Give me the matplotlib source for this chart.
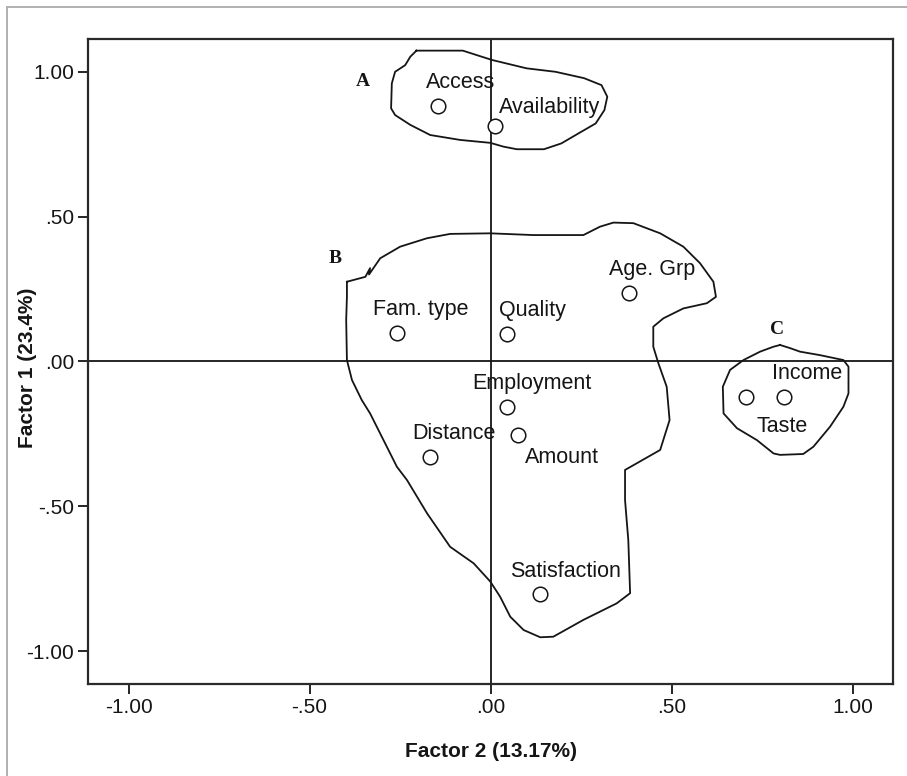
import matplotlib
matplotlib.use("Agg")
import matplotlib.pyplot as plt
from matplotlib.lines import Line2D
import numpy as np

# Factor loadings (Factor 2 on x, Factor 1 on y)
variables = ["Access", "Availability", "Fam. type", "Quality", "Age. Grp",
             "Employment", "Distance", "Amount", "Satisfaction", "Taste", "Income"]
factor2 = [-0.145, 0.011, -0.259, 0.046, 0.382, 0.046, -0.167, 0.075, 0.137, 0.704, 0.809]
factor1 = [0.881, 0.812, 0.097, 0.095, 0.237, -0.156, -0.330, -0.253, -0.802, -0.124, -0.124]

# hand-drawn group outlines, in loading units
group_a_x = [-0.205, -0.077, 0.003, 0.099, 0.179, 0.258, 0.306, 0.322, 0.314, 0.290, 0.243,
             0.195, 0.147, 0.072, 0.035, -0.001, -0.084, -0.167, -0.222, -0.264, -0.275,
             -0.273, -0.264, -0.236, -0.222, -0.205]
group_a_y = [1.072, 1.072, 1.040, 1.011, 0.999, 0.977, 0.953, 0.913, 0.867, 0.821, 0.787,
             0.752, 0.732, 0.732, 0.741, 0.754, 0.764, 0.781, 0.816, 0.850, 0.873,
             0.959, 0.999, 1.022, 1.051, 1.072]

group_b_x = [-0.397, -0.346, -0.333, -0.336, -0.305, -0.250, -0.176, -0.112, -0.001, 0.118,
             0.256, 0.302, 0.339, 0.394, 0.468, 0.532, 0.578, 0.615, 0.622, 0.597, 0.532,
             0.477, 0.449, 0.449, 0.463, 0.486, 0.494, 0.468, 0.371, 0.371, 0.380, 0.385,
             0.348, 0.256, 0.173, 0.137, 0.091, 0.054, 0.026, -0.001, -0.047, -0.112,
             -0.176, -0.231, -0.259, -0.296, -0.333, -0.356, -0.383, -0.397, -0.399,
             -0.397, -0.397]
group_b_y = [0.275, 0.292, 0.322, 0.300, 0.356, 0.396, 0.425, 0.440, 0.442, 0.436,
             0.436, 0.465, 0.479, 0.477, 0.442, 0.396, 0.339, 0.275, 0.223, 0.201, 0.183,
             0.149, 0.120, 0.051, -0.006, -0.087, -0.202, -0.305, -0.374, -0.478, -0.616,
             -0.799, -0.834, -0.891, -0.949, -0.951, -0.926, -0.880, -0.811, -0.759,
             -0.696, -0.639, -0.523, -0.409, -0.363, -0.271, -0.179, -0.133, -0.064,
             0.005, 0.143, 0.223, 0.275]

group_c_x = [0.799, 0.827, 0.854, 0.909, 0.974, 0.988, 0.988, 0.974, 0.937, 0.891, 0.863,
             0.799, 0.781, 0.735, 0.680, 0.643, 0.641, 0.661, 0.698, 0.744, 0.781, 0.799]
group_c_y = [0.057, 0.046, 0.034, 0.022, 0.005, -0.018, -0.110, -0.156, -0.225, -0.294,
             -0.319, -0.322, -0.317, -0.271, -0.230, -0.179, -0.087, -0.029, 0.005, 0.034,
             0.051, 0.057]

group_names = ["A", "B", "C"]
group_label_x = [-0.353, -0.429, 0.790]
group_label_y = [0.966, 0.356, 0.109]

# label offsets from each marker, in points
label_offsets = {
    "Access": (16, 17, "center"),
    "Availability": (3, 13.5, "left"),
    "Fam. type": (17, 17, "center"),
    "Quality": (18, 17, "center"),
    "Age. Grp": (16.5, 17, "center"),
    "Employment": (18, 17, "center"),
    "Distance": (17, 17, "center"),
    "Amount": (5, -16, "left"),
    "Satisfaction": (18, 16, "center"),
    "Taste": (26, -21, "center"),
    "Income": (17, 17, "center"),
}

plt.rcParams["font.family"] = ["Liberation Sans", "DejaVu Sans"]
ink = "#151515"

fig = plt.figure(figsize=(9.07, 7.76), dpi=100)
ax = fig.add_axes([0.097, 0.1186, 0.888, 0.8311])

ax.set_xlim(-1.112, 1.112)
ax.set_ylim(-1.112, 1.112)

ax.axhline(0, color=ink, lw=1.3, zorder=1)
ax.axvline(0, color=ink, lw=1.3, zorder=1)

for gx, gy in [(group_a_x, group_a_y), (group_b_x, group_b_y), (group_c_x, group_c_y)]:
    ax.plot(gx, gy, color=ink, lw=1.3, zorder=2)

ax.scatter(factor2, factor1, s=110, facecolor="white", edgecolor=ink,
           linewidths=1.1, zorder=3)

for name, x, y in zip(variables, factor2, factor1):
    dx, dy, ha = label_offsets[name]
    ax.annotate(name, (x, y), xytext=(dx, dy), textcoords="offset points",
                ha=ha, va="center", fontsize=15.5, color=ink)

for name, x, y in zip(group_names, group_label_x, group_label_y):
    ax.text(x, y, name, ha="center", va="center", fontsize=14, fontweight="bold",
            family=["Liberation Serif", "DejaVu Serif"], color=ink)

ticks = [-1.0, -0.5, 0.0, 0.5, 1.0]
tick_labels = ["-1.00", "-.50", ".00", ".50", "1.00"]
ax.set_xticks(ticks)
ax.set_xticklabels(tick_labels)
ax.set_yticks(ticks)
ax.set_yticklabels(tick_labels)
ax.tick_params(direction="out", length=7, width=1.3, pad=3, labelsize=15,
               colors=ink)

for sp in ax.spines.values():
    sp.set_linewidth(1.6)
    sp.set_color("#2a2a2a")

ax.set_xlabel("Factor 2 (13.17%)", fontsize=15, fontweight="bold", labelpad=18, color=ink)
ax.set_ylabel("Factor 1 (23.4%)", fontsize=15, fontweight="bold", color=ink)
# y label sits closer to the axis than the widest tick label
ax.yaxis.set_label_coords(-0.0757, 0.49)
ax.yaxis.label.set_va("center")

# thin grey frame along the top and left edge
fig.add_artist(Line2D([0.0077, 1.0], [0.991, 0.991], color="#b0b0b0", lw=1.4))
fig.add_artist(Line2D([0.0077, 0.0077], [0.0, 0.991], color="#b0b0b0", lw=1.4))

fig.savefig("out.png", dpi=100)
